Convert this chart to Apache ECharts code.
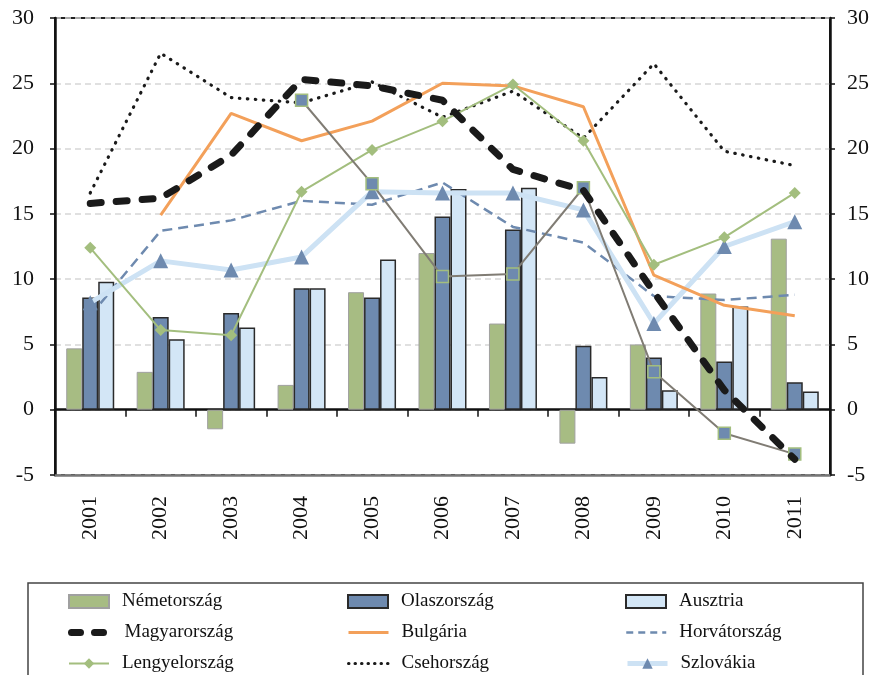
<!DOCTYPE html>
<html>
<head>
<meta charset="utf-8">
<style>
  html, body { margin: 0; padding: 0; background: #fff; }
  #chart { width: 877px; height: 675px; }
</style>
<script src="https://cdn.jsdelivr.net/npm/echarts@6/dist/echarts.min.js"></script>
</head>
<body>
<div id="chart"></div>
<script>
const years = ['2001', '2002', '2003', '2004', '2005', '2006', '2007', '2008', '2009', '2010', '2011']

// bars
const nemetorszag = [4.7, 2.9, -1.5, 1.9, 9.0, 12.0, 6.6, -2.6, 5.0, 8.9, 13.1]
const olaszorszag = [8.6, 7.1, 7.4, 9.3, 8.6, 14.8, 13.8, 4.9, 4.0, 3.7, 2.1]
const ausztria = [9.8, 5.4, 6.3, 9.3, 11.5, 16.9, 17.0, 2.5, 1.5, 7.9, 1.4]

// lines
const magyarorszag = [15.8, 16.2, 19.5, 25.3, 24.8, 23.7, 18.4, 16.8, 9.0, 1.5, -3.8]
const bulgaria = [null, 14.9, 22.7, 20.6, 22.1, 25.0, 24.8, 23.2, 10.3, 8.0, 7.2]
const horvatorszag = [7.2, 13.7, 14.5, 16.0, 15.7, 17.4, 14.0, 12.8, 8.7, 8.4, 8.8]
const lengyelorszag = [12.4, 6.1, 5.7, 16.7, 19.9, 22.1, 24.9, 20.6, 11.1, 13.2, 16.6]
const csehorszag = [16.6, 27.3, 23.9, 23.5, 25.1, 22.4, 24.4, 20.8, 26.5, 19.8, 18.7]
const szlovakia = [8.2, 11.4, 10.7, 11.7, 16.7, 16.6, 16.6, 15.3, 6.6, 12.5, 14.4]
const romania = [null, null, null, 23.7, 17.3, 10.2, 10.4, 17.0, 2.9, -1.8, -3.4]

// legend grid, row by row
const legendRows = [
  ['Németország', 'Olaszország', 'Ausztria'],
  ['Magyarország', 'Bulgária', 'Horvátország'],
  ['Lengyelország', 'Csehország', 'Szlovákia']
]
const barNames = ['Németország', 'Olaszország', 'Ausztria']
const noSymbol = ['Magyarország', 'Bulgária', 'Horvátország', 'Csehország']

const yTicks = { min: -5, max: 30, interval: 5 }

const serif = 'Liberation Serif'
const blue = '#6E8AAF'

const chart = echarts.init(document.getElementById('chart'), null, { renderer: 'canvas' })

// legend icon line styles (the legend thins lines by default)
const legendLines = {
  'Magyarország': { width: 7, type: [9, 14], cap: 'round' },
  'Bulgária': { width: 3 },
  'Szlovákia': { width: 5 },
  'Lengyelország': { width: 2 },
  'Horvátország': { width: 2.5, type: [7, 5] },
  'Csehország': { width: 3, type: [0.5, 6], cap: 'round' }
}

const colLeft = [68, 347, 625]
const rowMid = [601, 632, 663]
const legends = []
legendRows.forEach((row, r) => {
  row.forEach((name, c) => {
    let item = { name: name }
    if (barNames.includes(name)) item.icon = 'rect'
    if (noSymbol.includes(name)) item.itemStyle = { color: 'rgba(0,0,0,0)', borderWidth: 0 }
    if (legendLines[name]) item.lineStyle = legendLines[name]
    legends.push({
      left: colLeft[c],
      top: rowMid[r] - 9,
      itemWidth: 40,
      itemHeight: 13,
      padding: 0,
      textStyle: { fontFamily: serif, fontSize: 19, color: '#111', lineHeight: 18, padding: [0, 0, 0, 8] },
      data: [item]
    })
  })
})

const option = {
  animation: false,
  backgroundColor: '#fff',
  grid: {
    left: 55, right: 47, top: 18, bottom: 200,
    show: true, borderColor: '#222', borderWidth: 2, backgroundColor: 'transparent'
  },
  legend: legends,
  graphic: [{
    type: 'rect',
    shape: { x: 28, y: 583, width: 835, height: 120 },
    style: { fill: 'none', stroke: '#444', lineWidth: 1.5 },
    z: -1
  }],
  xAxis: [
    {
      type: 'category',
      data: years,
      axisLine: { onZero: true, lineStyle: { color: '#111', width: 2.5 } },
      axisTick: { show: true, length: 7, lineStyle: { color: '#111', width: 1.5 } },
      axisLabel: { show: false }
    },
    {
      type: 'category',
      data: years,
      position: 'bottom',
      axisLine: { onZero: false, lineStyle: { color: '#777', width: 2.5 } },
      axisTick: { show: false },
      axisLabel: { rotate: 90, margin: 21, fontFamily: serif, fontSize: 22, color: '#111' }
    }
  ],
  yAxis: [
    {
      type: 'value',
      position: 'left',
      min: yTicks.min, max: yTicks.max, interval: yTicks.interval,
      axisLine: { show: true, lineStyle: { color: '#111', width: 2.5 } },
      axisTick: { show: true, length: 5, lineStyle: { color: '#111', width: 1.5 } },
      axisLabel: { margin: 21, fontFamily: serif, fontSize: 22, color: '#111' },
      splitLine: { show: true, lineStyle: { type: [6, 4], color: '#D6D6D6', width: 1.5 } }
    },
    {
      type: 'value',
      position: 'right',
      min: yTicks.min, max: yTicks.max, interval: yTicks.interval,
      axisLine: { show: true, lineStyle: { color: '#111', width: 2.5 } },
      axisTick: { show: true, length: 5, lineStyle: { color: '#111', width: 1.5 } },
      axisLabel: { margin: 17, fontFamily: serif, fontSize: 22, color: '#111' },
      splitLine: { show: false }
    }
  ],
  series: [
    {
      name: 'Németország', type: 'bar', data: nemetorszag,
      barWidth: 16, barGap: '0%',
      itemStyle: { color: '#A7BC83', borderColor: '#A0A0A0', borderWidth: 1 }
    },
    {
      name: 'Olaszország', type: 'bar', data: olaszorszag,
      barWidth: 16, barGap: '0%',
      itemStyle: { color: blue, borderColor: '#2A2A2A', borderWidth: 1.5 }
    },
    {
      name: 'Ausztria', type: 'bar', data: ausztria,
      barWidth: 16, barGap: '0%',
      itemStyle: { color: '#D3E6F6', borderColor: '#2A2A2A', borderWidth: 1.5 }
    },
    {
      name: 'Csehország', type: 'line', data: csehorszag, symbol: 'none', z: 3,
      lineStyle: { color: '#1A1A1A', width: 3.2, type: [0.5, 7.5], cap: 'round' },
      itemStyle: { color: '#1A1A1A' }
    },
    {
      name: 'Horvátország', type: 'line', data: horvatorszag, symbol: 'none', z: 3,
      lineStyle: { color: blue, width: 2.5, type: [10, 6] },
      itemStyle: { color: blue }
    },
    {
      name: 'Szlovákia', type: 'line', data: szlovakia, z: 4,
      symbol: 'triangle', symbolSize: 15,
      lineStyle: { color: '#CDE2F4', width: 5 },
      itemStyle: { color: blue, borderWidth: 0 }
    },
    {
      name: 'Bulgária', type: 'line', data: bulgaria, symbol: 'none', z: 4,
      lineStyle: { color: '#F3A05A', width: 3 },
      itemStyle: { color: '#F3A05A' }
    },
    {
      name: 'Lengyelország', type: 'line', data: lengyelorszag, z: 5,
      symbol: 'diamond', symbolSize: 12,
      lineStyle: { color: '#A3BE7E', width: 2 },
      itemStyle: { color: '#A3BE7E', borderWidth: 0 }
    },
    {
      name: 'Románia', type: 'line', data: romania, z: 5,
      symbol: 'rect', symbolSize: 12,
      lineStyle: { color: '#807C74', width: 2 },
      itemStyle: { color: blue, borderColor: '#A3BE7E', borderWidth: 1.5 }
    },
    {
      name: 'Magyarország', type: 'line', data: magyarorszag, symbol: 'none', z: 6,
      lineStyle: { color: '#1A1A1A', width: 7, type: [11, 15], cap: 'round' },
      itemStyle: { color: '#1A1A1A' }
    }
  ]
}

chart.setOption(option)
</script>
</body>
</html>
